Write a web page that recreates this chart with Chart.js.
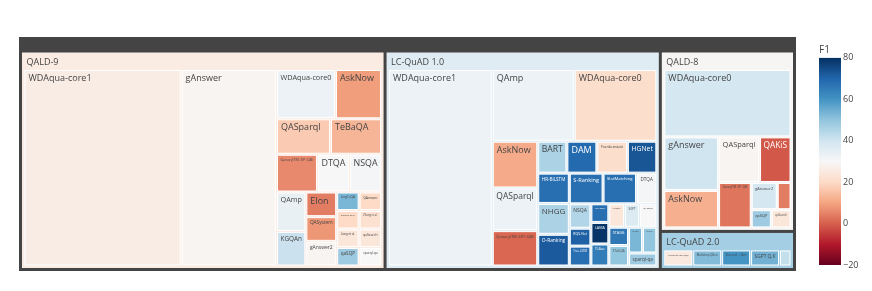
<!DOCTYPE html>
<html>
<head>
<meta charset="utf-8">
<script src="https://cdn.jsdelivr.net/npm/chart.js@4.4.0/dist/chart.umd.min.js"></script>
<style>
  html, body { margin: 0; padding: 0; background: #fff; }
</style>
</head>
<body>
<canvas id="treemap" width="872" height="291"></canvas>
<script>
// top level: benchmark datasets
const benchmarks = ['QALD-9', 'LC-QuAD 1.0', 'QALD-8', 'LC-QuAD 2.0'];

// QALD-9
const qald9Systems = ['WDAqua-core1', 'gAnswer', 'WDAqua-core0', 'AskNow', 'QASparql', 'TeBaQA',
  'Qanary(TM+DP+QB)', 'DTQA', 'NSQA', 'QAmp', 'KGQAn', 'Elon', 'QASystem', 'gAnswer2',
  'LingTeQA', 'QAnswer', 'Siciliani et al.', 'Zhang et al.', 'Liang et al.', 'qaSQP', 'qaSearch', 'sparql-qa'];
const qald9Size = [3494, 2122, 329, 257, 217, 205, 175, 137, 137, 131, 115, 86, 86, 86, 47, 47, 47, 47, 47, 47, 47, 47];
const qald9F1 = [26, 29, 33, 9, 17, 13, 6, 30, 31, 34, 41, 4, 8, 29, 53, 20, 20, 22, 24, 48, 24, 30];

// LC-QuAD 1.0
const lcquad1Systems = ['WDAqua-core1', 'QAmp', 'WDAqua-core0', 'AskNow', 'QASparql', 'Qanary(TM+DP+QB)',
  'BART', 'DAM', 'Frankenstein', 'HGNet', 'HR-BiLSTM', 'NHGG', 'O-Ranking', 'S-Ranking', 'SlotMatching', 'DTQA',
  'NSQA', 'RQS-Net', 'Tree-LSTM', 'PGN-BERT', 'LAMA', 'T5-Base',
  'UNIQORN', 'SGPT', 'QAnswer', 'STAGG', 'STaG-QA', 'T5-Small', 'ElNeuQA', 'sparql-qa'];
const lcquad1Size = [2322, 669, 675, 242, 221, 183, 106, 109, 111, 107, 109, 111, 114, 118, 117, 71,
  60, 44, 49, 38, 44, 45, 42, 40, 46, 41, 46, 41, 42, 42];
const lcquad1F1 = [33, 33, 21, 11, 33, 1, 46, 69, 21, 73, 68, 46, 72, 68, 68, 31,
  45, 71, 68, 68, 79, 65, 24, 37, 30, 66, 50, 53, 50, 48];

// QALD-8
const qald8Systems = ['WDAqua-core0', 'gAnswer', 'AskNow', 'QASparql', 'QAKiS', 'Qanary(TM+DP+QB)',
  'gAnswer2', 'Frankenstein', 'qaSQP', 'qaSearch'];
const qald8Size = [1028, 352, 246, 224, 172, 178, 85, 45, 44, 43];
const qald8F1 = [39, 40, 12, 29, -1, 3, 39, 4, 48, 24];

// LC-QuAD 2.0
const lcquad2Systems = ['ValueNet4SPARQL', 'Multi-hop QGen', 'Zou et al. + Bert', 'SGPT Q,K', 'T5-Base'];
const lcquad2Size = [116, 116, 116, 116, 46];
const lcquad2F1 = [25, 52, 60, 54, 42];

// colour bar
const cbTicks = [-20, 0, 20, 40, 60, 80];
const cbMin = -20, cbMax = 80;
const rdbu = ['#67001f', '#b2182b', '#d6604d', '#f4a582', '#fddbc7', '#f7f7f7',
  '#d1e5f0', '#92c5de', '#4393c3', '#2166ac', '#053061'];

const systems = [qald9Systems, lcquad1Systems, qald8Systems, lcquad2Systems];
const sizes = [qald9Size, lcquad1Size, qald8Size, lcquad2Size];
const scores = [qald9F1, lcquad1F1, qald8F1, lcquad2F1];

function hexRgb(h) {
  return [parseInt(h.slice(1, 3), 16), parseInt(h.slice(3, 5), 16), parseInt(h.slice(5, 7), 16)];
}
function f1Color(v) {
  let t = (v - cbMin) / (cbMax - cbMin) * (rdbu.length - 1);
  t = Math.max(0, Math.min(rdbu.length - 1, t));
  const i = Math.min(rdbu.length - 2, Math.floor(t)), f = t - i;
  const a = hexRgb(rdbu[i]), b = hexRgb(rdbu[i + 1]);
  return a.map((c, k) => Math.round(c + (b[k] - c) * f));
}

// build hierarchy, parents coloured by size-weighted mean F1
const root = { name: '', depth: 0, children: benchmarks.map((name, g) => {
  const children = systems[g].map((s, i) => ({ name: s, depth: 2, value: sizes[g][i], f1: scores[g][i] }));
  const value = children.reduce((a, c) => a + c.value, 0);
  const f1 = children.reduce((a, c) => a + c.value * c.f1, 0) / value;
  return { name, depth: 1, value, f1, children };
}) };
root.value = root.children.reduce((a, c) => a + c.value, 0);

// d3-style squarify (ratio 1)
function dice(row, sum, x0, y0, x1, y1) {
  const k = sum ? (x1 - x0) / sum : 0;
  row.forEach(n => { n.y0 = y0; n.y1 = y1; n.x0 = x0; n.x1 = x0 += n.value * k; });
}
function slice(row, sum, x0, y0, x1, y1) {
  const k = sum ? (y1 - y0) / sum : 0;
  row.forEach(n => { n.x0 = x0; n.x1 = x1; n.y0 = y0; n.y1 = y0 += n.value * k; });
}
function squarify(parent, x0, y0, x1, y1) {
  const nodes = parent.children, n = nodes.length;
  let value = parent.value, i0 = 0, i1 = 0;
  while (i0 < n) {
    const dx = x1 - x0, dy = y1 - y0;
    let sum, nv;
    do sum = nodes[i1++].value; while (!sum && i1 < n);
    let minV = sum, maxV = sum;
    const alpha = Math.max(dy / dx, dx / dy) / value;
    let beta = sum * sum * alpha;
    let minRatio = Math.max(maxV / beta, beta / minV);
    for (; i1 < n; ++i1) {
      sum += nv = nodes[i1].value;
      if (nv < minV) minV = nv;
      if (nv > maxV) maxV = nv;
      beta = sum * sum * alpha;
      const r = Math.max(maxV / beta, beta / minV);
      if (r > minRatio) { sum -= nv; break; }
      minRatio = r;
    }
    const row = nodes.slice(i0, i1);
    if (dx < dy) {
      const yy = dy ? y0 + dy * sum / value : y1;
      dice(row, sum, x0, y0, x1, yy); y0 = yy;
    } else {
      const xx = dx ? x0 + dx * sum / value : x1;
      slice(row, sum, x0, y0, xx, y1); x0 = xx;
    }
    value -= sum; i0 = i1;
  }
}

const rootPad = { t: 15.5, l: 3, r: 3, b: 3, inner: 3 };
const groupPad = { t: 18, l: 3, r: 3, b: 3, inner: 2 };
function position(node, p0) {
  node.x0 += p0; node.y0 += p0; node.x1 -= p0; node.y1 -= p0;
  if (!node.children) return;
  const pad = node.depth === 0 ? rootPad : groupPad;
  const p = pad.inner / 2;
  squarify(node, node.x0 + pad.l - p, node.y0 + pad.t - p, node.x1 - pad.r + p, node.y1 - pad.b + p);
  node.children.forEach(c => position(c, p));
}
root.x0 = 0; root.y0 = 0; root.x1 = 777; root.y1 = 234;
position(root, 0);

const FONT = '"Open Sans", sans-serif';

function textColor(rgb) {
  const br = (rgb[0] * 299 + rgb[1] * 587 + rgb[2] * 114) / 1000;
  return br < 128 ? '#fff' : '#444';
}

function drawLabel(ctx, text, x0, y0, x1, y1, color) {
  const w = x1 - x0, h = y1 - y0;
  let size = 9;
  ctx.font = size + 'px ' + FONT;
  const tw = ctx.measureText(text).width;
  const avail = w - 6;
  let shrunk = false;
  if (tw > avail) { size = size * avail / tw; shrunk = true; }
  if (size * 1.15 > h - 3) { size = Math.max(1, (h - 3) / 1.15); shrunk = true; }
  if (size < 1) return;
  ctx.font = size.toFixed(2) + 'px ' + FONT;
  const w2 = ctx.measureText(text).width;
  const x = shrunk ? x0 + (w - w2) / 2 : x0 + 3.5;
  ctx.fillStyle = color;
  ctx.textBaseline = 'alphabetic';
  ctx.textAlign = 'left';
  ctx.fillText(text, x, y0 + 2.5 + size * 0.9);
}

const treemapPlugin = {
  id: 'treemap',
  afterDraw(chart) {
    const ctx = chart.ctx;
    const sx = chart.scales.x, sy = chart.scales.y, cb = chart.scales.cb;
    const px = v => sx.getPixelForValue(v), py = v => sy.getPixelForValue(v);
    ctx.save();

    // root
    ctx.fillStyle = '#444';
    ctx.fillRect(px(root.x0), py(root.y0), px(root.x1) - px(root.x0), py(root.y1) - py(root.y0));

    root.children.forEach(g => {
      const gc = f1Color(g.f1);
      ctx.fillStyle = 'rgb(' + gc.join(',') + ')';
      const gx0 = px(g.x0), gy0 = py(g.y0), gx1 = px(g.x1), gy1 = py(g.y1);
      ctx.fillRect(gx0, gy0, gx1 - gx0, gy1 - gy0);
      ctx.font = '9px ' + FONT;
      ctx.fillStyle = textColor(gc);
      ctx.fillText(g.name, gx0 + 4.5, gy0 + 12);

      g.children.forEach(leaf => {
        const c = f1Color(leaf.f1);
        const x0 = px(leaf.x0), y0 = py(leaf.y0), x1 = px(leaf.x1), y1 = py(leaf.y1);
        ctx.fillStyle = 'rgb(' + c.join(',') + ')';
        ctx.fillRect(x0, y0, x1 - x0, y1 - y0);
        ctx.strokeStyle = '#fff';
        ctx.lineWidth = 1;
        ctx.strokeRect(x0, y0, x1 - x0, y1 - y0);
        drawLabel(ctx, leaf.name, x0, y0, x1, y1, textColor(c));
      });
    });

    // colour bar
    const barRight = chart.chartArea.right, barLeft = barRight - 22;
    const yTop = cb.getPixelForValue(cbMax), yBot = cb.getPixelForValue(cbMin);
    const grad = ctx.createLinearGradient(0, yBot, 0, yTop);
    rdbu.forEach((col, i) => grad.addColorStop(i / (rdbu.length - 1), col));
    ctx.fillStyle = grad;
    ctx.fillRect(barLeft, yTop, barRight - barLeft, yBot - yTop);
    ctx.fillStyle = '#444';
    ctx.font = '10px ' + FONT;
    ctx.fillText('F1', barLeft, 53);
    ctx.restore();
  }
};

new Chart(document.getElementById('treemap'), {
  type: 'scatter',
  data: { datasets: [] },
  options: {
    responsive: false,
    animation: false,
    devicePixelRatio: 1,
    layout: { padding: { left: 19, top: 37, right: 0, bottom: 20 } },
    plugins: { legend: { display: false }, tooltip: { enabled: false } },
    scales: {
      x: { type: 'linear', min: 0, max: 822, display: false },
      y: { type: 'linear', min: 0, max: 234, reverse: true, display: false },
      cb: {
        type: 'linear', axis: 'y', position: 'right',
        min: -22.9, max: 90.1,
        grid: { display: false, drawTicks: false },
        border: { display: false },
        afterBuildTicks: s => { s.ticks = cbTicks.map(v => ({ value: v })); },
        afterFit: s => { s.width = 31; },
        ticks: {
          padding: 2, color: '#444', font: { family: 'Open Sans', size: 9 },
          callback: v => v < 0 ? '\u2212' + Math.abs(v) : String(v)
        }
      }
    }
  },
  plugins: [treemapPlugin]
});
</script>
</body>
</html>
